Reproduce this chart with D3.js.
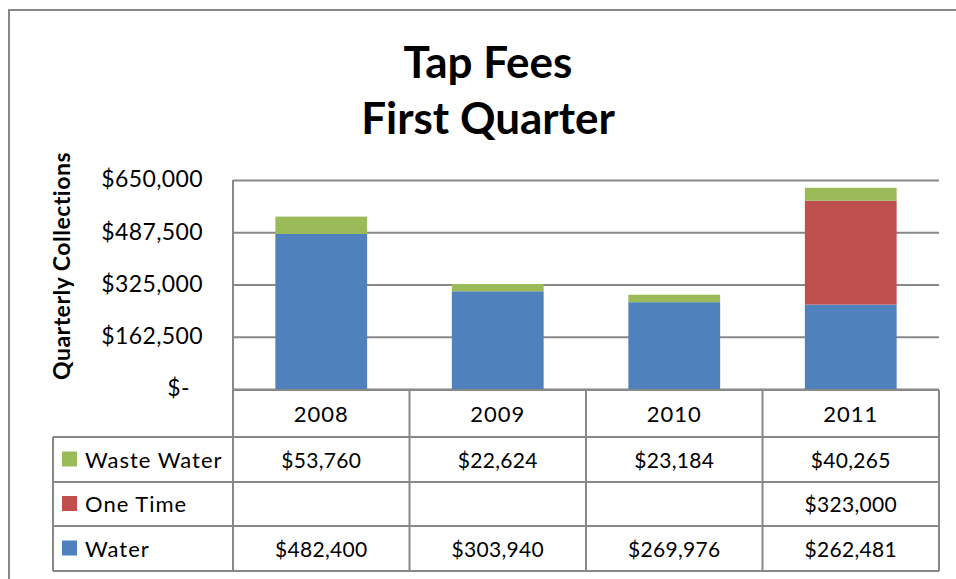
<!DOCTYPE html>
<html>
<head>
<meta charset="utf-8">
<script src="https://cdn.jsdelivr.net/npm/d3@7"></script>
<style>
  body { margin: 0; background: #fff; }
  text { font-family: Lato, "Open Sans", sans-serif; fill: #000; }
</style>
</head>
<body>
<div id="chart-area"></div>
<script>
// data
var years = ["2008", "2009", "2010", "2011"];
var seriesNames = ["Water", "One Time", "Waste Water"];
var water = [482400, 303940, 269976, 262481];
var oneTime = [null, null, null, 323000];
var wasteWater = [53760, 22624, 23184, 40265];
var tickValues = [0, 162500, 325000, 487500, 650000];
var colors = {"Water": "#4F81BD", "One Time": "#C0504D", "Waste Water": "#9BBB59"};

var width = 956, height = 579;
var plot = {left: 233, right: 939, top: 180, bottom: 389};
var rowH = [47, 45, 44, 45]; // header + 3 rows

var svg = d3.select('#chart-area')
    .append('svg')
        .attr('width', width)
        .attr('height', height);

// outer frame
svg.append("rect")
    .attr("x", 9).attr("y", 10)
    .attr("width", 960).attr("height", 600)
    .attr("fill", "none")
    .attr("stroke", "#878787")
    .attr("stroke-width", 2);

// title
svg.append("text")
    .attr("x", 488).attr("y", 78)
    .attr("text-anchor", "middle")
    .attr("font-size", "44px").attr("font-weight", "bold")
    .text("Tap Fees");
svg.append("text")
    .attr("x", 488).attr("y", 134)
    .attr("text-anchor", "middle")
    .attr("font-size", "44px").attr("font-weight", "bold")
    .text("First Quarter");

var x = d3.scaleBand()
    .domain(years)
    .range([plot.left, plot.right])
    .paddingInner(0)
    .paddingOuter(0);

var y = d3.scaleLinear()
    .domain([0, 650000])
    .range([plot.bottom, plot.top]);

// gridlines + labels
var yAxis = d3.axisLeft(y)
    .tickValues(tickValues)
    .tickSize(-(plot.right - plot.left))
    .tickPadding(30)
    .tickFormat(function(d) { return d === 0 ? "$-" : "$" + d3.format(",")(d); });

var yAxisGroup = svg.append("g")
    .attr("transform", "translate(" + plot.left + ",0)")
    .call(yAxis);
yAxisGroup.select(".domain").remove();
yAxisGroup.selectAll("line")
    .attr("stroke", "#888")
    .attr("stroke-width", 2);
yAxisGroup.selectAll("text")
    .attr("font-size", "23px")
    .attr("letter-spacing", "0.4px")
    .style("font-family", "Lato, 'Open Sans', sans-serif")
    .attr("fill", "#000")
    .attr("dy", "0.3em")
    .attr("dx", function(d) { return d === 0 ? -13 : 0; });

// left axis line
svg.append("line")
    .attr("x1", plot.left).attr("x2", plot.left)
    .attr("y1", plot.top).attr("y2", plot.bottom + rowH[0])
    .attr("stroke", "#888").attr("stroke-width", 2);

// y title
svg.append("text")
    .attr("transform", "translate(70,266) rotate(-90)")
    .attr("text-anchor", "middle")
    .attr("font-size", "23px").attr("font-weight", "bold")
    .attr("letter-spacing", "0.5px")
    .text("Quarterly Collections");

// stacked bars
var table = years.map(function(yr, i) {
    return {year: yr, "Water": water[i], "One Time": oneTime[i] || 0, "Waste Water": wasteWater[i]};
});
var stack = d3.stack().keys(seriesNames)(table);
var barW = x.bandwidth() * 0.52;

svg.selectAll("g.series")
    .data(stack)
    .enter().append("g")
        .attr("class", "series")
        .attr("fill", function(d) { return colors[d.key]; })
    .selectAll("rect")
    .data(function(d) { return d; })
    .enter().append("rect")
        .attr("x", function(d) { return x(d.data.year) + (x.bandwidth() - barW) / 2; })
        .attr("y", function(d) { return y(d[1]); })
        .attr("height", function(d) { return y(d[0]) - y(d[1]); })
        .attr("width", barW);

// data table
var rowTop = [plot.bottom + 1];
for (var i = 1; i <= rowH.length; i++) rowTop.push(rowTop[i - 1] + rowH[i - 1]);
var legendLeft = 53;
var lineColor = "#888";
var tg = svg.append("g").attr("class", "data-table");

// horizontal lines
tg.append("line")
    .attr("x1", plot.left).attr("x2", plot.right)
    .attr("y1", rowTop[0]).attr("y2", rowTop[0])
    .attr("stroke", lineColor).attr("stroke-width", 2);
for (var r = 1; r < rowTop.length; r++) {
    tg.append("line")
        .attr("x1", legendLeft).attr("x2", plot.right)
        .attr("y1", rowTop[r]).attr("y2", rowTop[r])
        .attr("stroke", lineColor).attr("stroke-width", 2);
}
// vertical lines
tg.append("line")
    .attr("x1", legendLeft).attr("x2", legendLeft)
    .attr("y1", rowTop[1]).attr("y2", rowTop[4])
    .attr("stroke", lineColor).attr("stroke-width", 2);
tg.append("line")
    .attr("x1", plot.left).attr("x2", plot.left)
    .attr("y1", rowTop[1]).attr("y2", rowTop[4])
    .attr("stroke", lineColor).attr("stroke-width", 2);
years.forEach(function(yr) {
    tg.append("line")
        .attr("x1", x(yr) + x.bandwidth()).attr("x2", x(yr) + x.bandwidth())
        .attr("y1", rowTop[0]).attr("y2", rowTop[4])
        .attr("stroke", lineColor).attr("stroke-width", 2);
});

// header years
tg.selectAll("text.year")
    .data(years)
    .enter().append("text")
        .attr("class", "year")
        .attr("x", function(d) { return x(d) + x.bandwidth() / 2; })
        .attr("y", rowTop[0] + rowH[0] / 2 + 8)
        .attr("text-anchor", "middle")
        .attr("font-size", "22px")
        .attr("letter-spacing", "1px")
        .text(function(d) { return d; });

var rows = [
    {name: "Waste Water", values: wasteWater},
    {name: "One Time", values: oneTime},
    {name: "Water", values: water}
];
var fmt = function(v) { return v == null ? "" : "$" + d3.format(",")(v); };

rows.forEach(function(row, ri) {
    var top = rowTop[ri + 1], h = rowH[ri + 1];
    tg.append("rect")
        .attr("x", 62).attr("y", top + h / 2 - 8)
        .attr("width", 15).attr("height", 15)
        .attr("fill", colors[row.name]);
    tg.append("text")
        .attr("x", 85).attr("y", top + h / 2 + 8)
        .attr("font-size", "22px")
        .attr("letter-spacing", "1px")
        .text(row.name);
    tg.selectAll(null)
        .data(row.values)
        .enter().append("text")
            .attr("x", function(d, i) { return x(years[i]) + x.bandwidth() / 2; })
            .attr("y", top + h / 2 + 8)
            .attr("text-anchor", "middle")
            .attr("font-size", "21px")
            .attr("letter-spacing", "0.3px")
            .text(fmt);
});
</script>
</body>
</html>
